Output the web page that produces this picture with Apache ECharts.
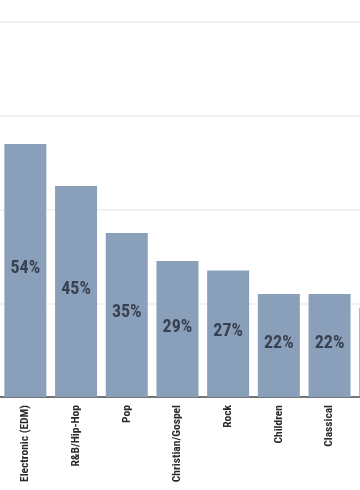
<!DOCTYPE html>
<html>
<head>
<meta charset="utf-8">
<script src="https://cdn.jsdelivr.net/npm/echarts@6/dist/echarts.min.js"></script>
<style>
html,body{margin:0;padding:0;background:#fff;}
#chart{width:360px;height:490px;}
</style>
</head>
<body>
<div id="chart"></div>
<script>
const categories = ["Electronic (EDM)", "R&B/Hip-Hop", "Pop", "Christian/Gospel", "Rock", "Children", "Classical", "Country"];
const values = [54, 45, 35, 29, 27, 22, 22, 19];
const yTicks = [0, 20, 40, 60, 80];

const chart = echarts.init(document.getElementById('chart'), null, {renderer: 'canvas'});
const narrow = '"Roboto Condensed", "Open Sans", sans-serif';
chart.setOption({
  animation: false,
  backgroundColor: '#ffffff',
  grid: {left: 0, top: 22, width: 405.6, bottom: 93, containLabel: false, outerBoundsMode: 'none'},
  xAxis: {
    type: 'category',
    data: categories,
    axisLine: {show: true, lineStyle: {color: '#4a4a4a', width: 1.5}},
    axisTick: {show: false},
    axisLabel: {
      rotate: 90,
      margin: 8,
      interval: 0,
      color: '#2a2a2a',
      fontFamily: narrow,
      fontWeight: 'bold',
      fontSize: 11.5
    }
  },
  yAxis: {
    type: 'value',
    min: yTicks[0],
    max: yTicks[yTicks.length - 1],
    interval: yTicks[1] - yTicks[0],
    axisLine: {show: false},
    axisTick: {show: false},
    axisLabel: {show: false},
    splitLine: {show: true, lineStyle: {color: '#eeeeee', width: 1.5}}
  },
  series: [{
    type: 'bar',
    data: values,
    barWidth: 42,
    itemStyle: {color: '#8aa0ba'},
    label: {
      show: true,
      position: 'inside',
      offset: [0, -2],
      formatter: '{c}%',
      color: '#394151',
      fontFamily: narrow,
      fontWeight: 'bold',
      fontSize: 18
    }
  }]
});
</script>
</body>
</html>
